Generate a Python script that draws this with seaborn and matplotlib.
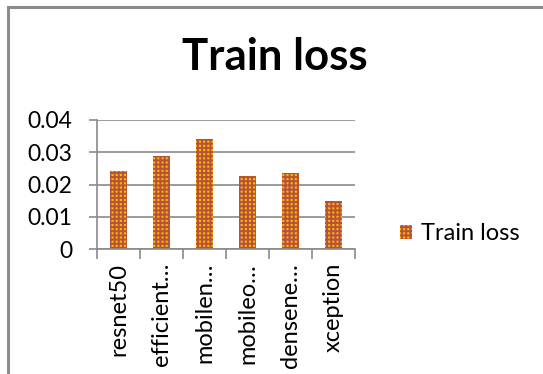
import matplotlib
matplotlib.use("Agg")
import matplotlib.pyplot as plt
import seaborn as sns
import pandas as pd
from matplotlib.patches import Rectangle

models = ["resnet50", "efficient…", "mobilen…", "mobileo…", "densene…", "xception"]
train_loss = [0.0241, 0.0287, 0.0340, 0.0225, 0.0235, 0.0150]
yticks = [0, 0.01, 0.02, 0.03, 0.04]
ytick_labels = ["0", "0.01", "0.02", "0.03", "0.04"]
series_name = "Train loss"

sns.set_theme(style="white")
plt.rcParams["font.family"] = ["Lato", "DejaVu Sans"]
plt.rcParams["hatch.linewidth"] = 1.4

df = pd.DataFrame({"model": models, "loss": train_loss})

fig = plt.figure(figsize=(5.43, 3.74), dpi=100)
ax = fig.add_axes([97/543, 1-249/374, (355-97)/543, (249-120)/374])

sns.barplot(data=df, x="model", y="loss", ax=ax, color="#FFB400", width=0.4,
            saturation=1, label=series_name, legend=False)
for p in ax.patches:
    p.set_hatch("++++")
    p.set_edgecolor("#B5523B")
    p.set_linewidth(0)
if ax.get_legend() is not None:
    ax.get_legend().remove()

ax.set_ylim(0, 0.04)
ax.set_xlim(-0.5, len(models) - 0.5)
ax.set_yticks(yticks)
ax.set_yticklabels(ytick_labels, fontsize=16.5, color="black")
ax.set_xticks(range(len(models)))
ax.set_xticklabels(models, rotation=90, fontsize=17, color="black")
ax.set_xlabel("")
ax.set_ylabel("")
ax.yaxis.grid(True, color="#8a8a8a", linewidth=1.2)
ax.set_axisbelow(True)
for s in ["top", "right"]:
    ax.spines[s].set_visible(False)
for s in ["left", "bottom"]:
    ax.spines[s].set_color("#8a8a8a")
    ax.spines[s].set_linewidth(1.2)
ax.tick_params(axis="y", which="major", left=True, length=6, width=1.2,
               color="#8a8a8a", pad=12)
ax.tick_params(axis="x", which="major", bottom=False, pad=4)
ax.set_xticks([i - 0.5 for i in range(len(models) + 1)], minor=True)
ax.tick_params(axis="x", which="minor", bottom=True, length=7, width=1.2,
               color="#8a8a8a")

fig.text(275/543, 1-57/374, "Train loss", ha="center", va="center",
         fontsize=31.5, fontweight="bold", color="black")

h, l = ax.get_legend_handles_labels()
fig.legend(h[:1], l[:1], loc="center left", bbox_to_anchor=(391/543, 1-234/374),
           frameon=False, fontsize=17, handlelength=0.5, handleheight=0.5,
           handletextpad=0.35, borderaxespad=0, labelcolor="black")

fig.add_artist(Rectangle((8/543, -0.5), 2.0, 0.5 + (1 - 7/374), fill=False,
                         edgecolor="#8c8c8c", linewidth=2.2,
                         transform=fig.transFigure))

fig.savefig("out.png", dpi=100)
